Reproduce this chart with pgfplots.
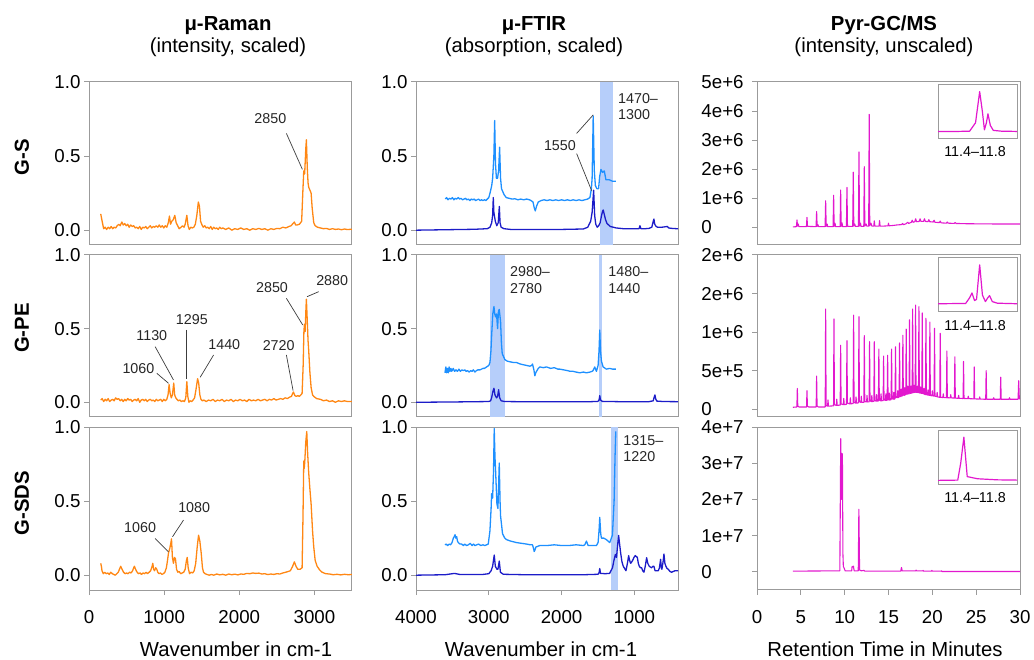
\documentclass[border=0pt]{standalone}
\usepackage{fontspec}
\setmainfont{Liberation Sans}
\usepackage{pgfplots}
\pgfplotsset{compat=1.18}
\definecolor{ramanorange}{RGB}{255,135,20}
\definecolor{ftirlight}{RGB}{30,144,255}
\definecolor{ftirdark}{RGB}{28,28,200}
\definecolor{gcmag}{RGB}{226,24,206}
\definecolor{bandblue}{RGB}{182,206,250}
\definecolor{framegray}{RGB}{155,155,155}
\definecolor{annline}{RGB}{60,60,60}
\newcommand\ticksize{\fontsize{18.7}{22}\selectfont}
\newcommand\titlesize{\fontsize{20.3}{24}\selectfont}
\newcommand\annsize{\fontsize{14.3}{16.7}\selectfont}
\pgfplotsset{
  panel/.style={scale only axis,anchor=north west,
    axis line style={draw=framegray,line width=1pt},
    tick style={draw=framegray,line width=1pt},
    tick align=outside,major tick length=5pt,
    xtick pos=left,ytick pos=left,
    tick label style={font=\ticksize},
    xticklabel style={yshift=-12pt},
    every axis plot/.append style={line width=1.3pt,line join=round}},
  raman/.style={panel,width=263pt,xmin=0,xmax=3500,ymin=-0.1,ymax=1.0,
    ytick={0,0.5,1},yticklabels={0.0,0.5,1.0}},
  ftir/.style={panel,width=262pt,x dir=reverse,xmin=400,xmax=4000,ymin=-0.1,ymax=1.0,
    ytick={0,0.5,1},yticklabels={0.0,0.5,1.0}},
  gc/.style={panel,width=263pt,xmin=0,xmax=30,scaled y ticks=false,
    yticklabel style={text width=47pt,align=left},
    every axis plot/.append style={line width=1.1pt}},
  inset/.style={scale only axis,anchor=north west,width=79pt,height=54pt,
    xmin=11.4,xmax=11.8,ymin=0,ymax=1,xtick=\empty,ytick=\empty,
    axis line style={draw=framegray,line width=1pt},
    axis background/.style={fill=white},
    every axis plot/.append style={line width=1.2pt,line join=round}},
}
\tikzset{
  ann/.style={font=\annsize,inner sep=0pt,text=black!85},
  ann2/.style={font=\annsize,inner sep=0pt,text=black!85,align=left,anchor=north west},
  pointer/.style={draw=annline,line width=0.7pt},
}
\begin{document}
\begin{tikzpicture}
\useasboundingbox (0pt,0pt) rectangle (1034pt,-660pt);

% column titles
\node[anchor=base,font=\titlesize\bfseries] at (228pt,-30.7pt) {μ-Raman};
\node[anchor=base,font=\titlesize] at (228pt,-52.7pt) {(intensity, scaled)};
\node[anchor=base,font=\titlesize\bfseries] at (534pt,-30.7pt) {μ-FTIR};
\node[anchor=base,font=\titlesize] at (534pt,-52.7pt) {(absorption, scaled)};
\node[anchor=base,font=\titlesize\bfseries] at (884pt,-30.7pt) {Pyr-GC/MS};
\node[anchor=base,font=\titlesize] at (884pt,-52.7pt) {(intensity, unscaled)};

% row labels
\node[rotate=90,font=\titlesize\bfseries] at (22pt,-157pt) {G-S};
\node[rotate=90,font=\titlesize\bfseries] at (22pt,-328pt) {G-PE};
\node[rotate=90,font=\titlesize\bfseries] at (22pt,-503pt) {G-SDS};

% x axis titles
\node[anchor=base,inner sep=0pt,font=\titlesize] at (236pt,-656pt) {Wavenumber in cm-1};
\node[anchor=base,inner sep=0pt,font=\titlesize] at (541pt,-656pt) {Wavenumber in cm-1};
\node[anchor=base,inner sep=0pt,font=\titlesize] at (885pt,-656pt) {Retention Time in Minutes};

%% ---------------- Raman ----------------
\begin{axis}[raman,at={(89pt,-82pt)},height=163pt,xtick=\empty]
\addplot[ramanorange] coordinates {(156,0.11)(175,0.06)(195,0.01)(215,0.02)(235,0.005)(255,0.02)(275,0.01)(295,0.025)(315,0.01)(335,0.02)(355,0.015)(375,0.03)(395,0.04)(415,0.03)(437,0.055)(455,0.035)(475,0.045)(495,0.03)(515,0.04)(535,0.02)(555,0.035)(575,0.025)(595,0.03)(615,0.015)(635,0.02)(655,0.01)(675,0.025)(695,0.005)(715,0.02)(735,0.015)(755,0.025)(775,0.01)(795,0.02)(815,0.03)(835,0.015)(855,0.025)(875,0.02)(895,0.03)(915,0.02)(935,0.035)(955,0.02)(975,0.03)(995,0.015)(1015,0.03)(1035,0.02)(1055,0.05)(1071,0.095)(1085,0.04)(1102,0.06)(1120,0.07)(1142,0.10)(1160,0.05)(1180,0.03)(1200,0.01)(1225,0.02)(1245,0.03)(1265,0.02)(1280,0.04)(1302,0.10)(1318,0.03)(1335,0.005)(1355,0.02)(1375,0.015)(1395,0.02)(1415,0.04)(1435,0.10)(1455,0.19)(1470,0.16)(1485,0.06)(1500,0.04)(1520,0.02)(1540,0.03)(1560,0.015)(1580,0.02)(1600,0.01)(1620,0.025)(1640,0.005)(1660,0.02)(1680,0.01)(1700,0.015)(1720,0.005)(1740,0.02)(1760,0.01)(1780,0.015)(1820,0.005)(1860,0.015)(1900,0.0)(1940,0.01)(1980,0.005)(2020,0.015)(2060,0.005)(2100,0.01)(2140,0.0)(2180,0.01)(2220,0.005)(2260,0.012)(2300,0.005)(2340,0.01)(2380,0.0)(2420,0.01)(2460,0.005)(2500,0.012)(2540,0.01)(2580,0.02)(2620,0.015)(2660,0.025)(2690,0.03)(2715,0.045)(2733,0.055)(2750,0.035)(2770,0.035)(2800,0.04)(2830,0.06)(2845,0.25)(2858,0.40)(2870,0.38)(2885,0.55)(2893,0.61)(2905,0.42)(2915,0.32)(2924,0.29)(2940,0.27)(2956,0.25)(2970,0.15)(2991,0.05)(3010,0.03)(3040,0.02)(3080,0.015)(3120,0.01)(3160,0.012)(3200,0.005)(3240,0.01)(3280,0.005)(3320,0.008)(3360,0.003)(3400,0.008)(3440,0.004)(3480,0.006)(3500,0.005)};
\draw[pointer] (2627,0.653) -- (2840,0.41);
\node[ann] at (2413,0.755) {2850};
\end{axis}

\begin{axis}[raman,at={(89pt,-255pt)},height=162pt,xtick=\empty]
\addplot[ramanorange] coordinates {(156,0.015)(175,0.025)(195,0.005)(215,0.02)(235,0.01)(255,0.025)(275,0.005)(295,0.015)(315,0.02)(335,0.01)(355,0.03)(375,0.02)(395,0.025)(415,0.01)(435,0.02)(455,0.005)(475,0.02)(495,0.01)(515,0.025)(535,0.015)(555,0.02)(575,0.005)(595,0.015)(615,0.02)(635,0.01)(655,0.025)(675,0.0)(695,0.015)(715,0.02)(735,0.01)(755,0.02)(775,0.005)(795,0.015)(815,0.02)(835,0.01)(855,0.015)(875,0.005)(895,0.02)(915,0.01)(935,0.015)(955,0.02)(975,0.005)(995,0.02)(1015,0.01)(1035,0.02)(1052,0.05)(1066,0.12)(1080,0.06)(1095,0.03)(1110,0.05)(1128,0.13)(1140,0.05)(1155,0.03)(1170,0.02)(1190,0.01)(1210,0.015)(1230,0.005)(1250,0.01)(1270,0.005)(1288,0.03)(1302,0.14)(1315,0.04)(1330,0.0)(1345,0.01)(1365,0.005)(1385,0.015)(1405,0.03)(1425,0.09)(1445,0.16)(1460,0.13)(1475,0.05)(1490,0.02)(1510,0.01)(1530,0.015)(1560,0.005)(1590,0.015)(1620,0.01)(1650,0.02)(1680,0.005)(1710,0.015)(1740,0.01)(1770,0.02)(1800,0.005)(1830,0.015)(1860,0.01)(1890,0.02)(1920,0.005)(1950,0.015)(1980,0.01)(2010,0.02)(2040,0.01)(2070,0.015)(2100,0.005)(2130,0.02)(2160,0.01)(2190,0.015)(2220,0.01)(2250,0.02)(2280,0.01)(2310,0.015)(2340,0.02)(2370,0.01)(2400,0.02)(2430,0.015)(2460,0.025)(2490,0.015)(2520,0.02)(2550,0.025)(2580,0.02)(2610,0.03)(2640,0.025)(2670,0.035)(2695,0.04)(2710,0.06)(2720,0.07)(2740,0.045)(2760,0.04)(2780,0.045)(2800,0.04)(2820,0.05)(2836,0.06)(2850,0.25)(2860,0.48)(2867,0.53)(2876,0.48)(2886,0.62)(2893,0.70)(2905,0.55)(2915,0.42)(2924,0.35)(2940,0.2)(2956,0.1)(2975,0.05)(2991,0.04)(3030,0.025)(3080,0.02)(3120,0.01)(3160,0.015)(3200,0.005)(3240,0.01)(3280,0.0)(3320,0.01)(3360,0.005)(3400,0.01)(3440,0.005)(3500,0.005)};
\draw[pointer] (3057,0.751) -- (2902,0.717);
\node[ann] at (3236,0.826) {2880};
\draw[pointer] (2627,0.706) -- (2844,0.525);
\node[ann] at (2436,0.78) {2850};
\draw[pointer] (1302,0.491) -- (1302,0.156);
\node[ann] at (1369,0.563) {1295};
\draw[pointer] (880,0.378) -- (1124,0.152);
\node[ann] at (836,0.45) {1130};
\draw[pointer] (1658,0.321) -- (1480,0.17);
\node[ann] at (1800,0.389) {1440};
\draw[pointer] (902,0.197) -- (1058,0.129);
\node[ann] at (658,0.231) {1060};
\draw[pointer] (2627,0.321) -- (2716,0.079);
\node[ann] at (2524,0.382) {2720};
\end{axis}

\begin{axis}[raman,at={(89pt,-427pt)},height=163pt,
  xtick={0,1000,2000,3000},xticklabels={0,1000,2000,3000}]
\addplot[ramanorange] coordinates {(156,0.08)(165,0.06)(173,0.03)(190,0.01)(210,0.02)(230,0.01)(250,0.015)(270,0.005)(290,0.02)(310,0.01)(330,0.005)(350,0.0)(370,0.01)(390,0.02)(405,0.04)(422,0.06)(440,0.04)(460,0.02)(480,0.01)(500,0.015)(520,0.01)(540,0.02)(560,0.015)(580,0.03)(595,0.05)(604,0.06)(620,0.04)(640,0.02)(660,0.01)(680,0.015)(700,0.005)(720,0.015)(740,0.01)(760,0.02)(780,0.01)(800,0.02)(820,0.03)(840,0.06)(849,0.08)(860,0.04)(872,0.03)(888,0.05)(902,0.04)(915,0.02)(930,0.01)(950,0.015)(970,0.005)(990,0.01)(1010,0.02)(1030,0.05)(1045,0.10)(1058,0.15)(1075,0.18)(1090,0.22)(1098,0.245)(1110,0.12)(1124,0.08)(1138,0.12)(1151,0.11)(1165,0.04)(1182,0.02)(1200,0.025)(1220,0.01)(1240,0.015)(1260,0.02)(1280,0.04)(1297,0.10)(1307,0.12)(1320,0.05)(1338,0.01)(1360,0.02)(1380,0.015)(1400,0.03)(1420,0.08)(1440,0.19)(1458,0.27)(1475,0.23)(1493,0.15)(1510,0.05)(1524,0.02)(1545,0.01)(1570,0.005)(1600,0.0)(1630,0.005)(1660,0.0)(1700,0.008)(1740,0.002)(1780,0.006)(1820,0.0)(1860,0.008)(1900,0.003)(1940,0.007)(1980,0.002)(2020,0.008)(2060,0.006)(2100,0.012)(2140,0.01)(2180,0.015)(2220,0.012)(2260,0.014)(2300,0.008)(2340,0.01)(2380,0.004)(2420,0.008)(2460,0.005)(2500,0.01)(2540,0.008)(2580,0.015)(2620,0.02)(2650,0.025)(2680,0.03)(2710,0.06)(2733,0.09)(2755,0.06)(2778,0.04)(2810,0.04)(2836,0.05)(2848,0.4)(2858,0.77)(2864,0.72)(2871,0.76)(2885,0.9)(2898,0.97)(2910,0.82)(2924,0.69)(2940,0.58)(2956,0.48)(2975,0.3)(2991,0.19)(3010,0.1)(3036,0.06)(3070,0.035)(3102,0.02)(3150,0.01)(3200,0.008)(3250,0.003)(3300,0.006)(3350,0.002)(3400,0.006)(3450,0.003)(3500,0.005)};
\draw[pointer] (1258,0.372) -- (1111,0.259);
\node[ann] at (1400,0.457) {1080};
\draw[pointer] (880,0.248) -- (1058,0.158);
\node[ann] at (680,0.322) {1060};
\end{axis}

%% ---------------- FTIR ----------------
\begin{axis}[ftir,at={(416pt,-82pt)},height=163pt,xtick=\empty]
\fill[bandblue] (1470,-0.1) rectangle (1300,1.0);
\addplot[ftirlight] coordinates {(3597,0.21)(3580,0.22)(3560,0.205)(3540,0.215)(3520,0.21)(3500,0.22)(3480,0.205)(3460,0.215)(3440,0.21)(3420,0.22)(3400,0.21)(3380,0.215)(3360,0.205)(3340,0.21)(3320,0.215)(3300,0.205)(3280,0.21)(3260,0.2)(3240,0.21)(3220,0.205)(3200,0.21)(3180,0.2)(3160,0.205)(3140,0.21)(3120,0.2)(3100,0.205)(3080,0.2)(3060,0.205)(3040,0.2)(3020,0.21)(3000,0.22)(2983,0.25)(2960,0.3)(2947,0.35)(2930,0.5)(2919,0.74)(2908,0.45)(2895,0.35)(2880,0.35)(2865,0.4)(2851,0.56)(2838,0.35)(2825,0.28)(2790,0.24)(2760,0.22)(2720,0.215)(2680,0.21)(2640,0.212)(2600,0.205)(2560,0.21)(2520,0.205)(2480,0.21)(2440,0.205)(2420,0.2)(2392,0.19)(2375,0.15)(2361,0.13)(2345,0.16)(2320,0.19)(2280,0.2)(2240,0.205)(2200,0.2)(2160,0.205)(2120,0.2)(2080,0.205)(2040,0.2)(2000,0.205)(1960,0.2)(1920,0.205)(1880,0.2)(1840,0.205)(1800,0.2)(1760,0.205)(1720,0.2)(1680,0.205)(1642,0.21)(1610,0.22)(1590,0.28)(1580,0.35)(1565,0.77)(1550,0.4)(1535,0.3)(1514,0.28)(1491,0.28)(1477,0.36)(1459,0.41)(1436,0.39)(1413,0.40)(1390,0.34)(1344,0.34)(1298,0.33)(1253,0.33)};
\addplot[ftirdark] coordinates {(4000,0.0)(3600,0.003)(3200,0.006)(3020,0.01)(2983,0.02)(2960,0.05)(2947,0.1)(2938,0.22)(2930,0.12)(2910,0.06)(2890,0.03)(2870,0.05)(2855,0.16)(2845,0.05)(2830,0.02)(2790,0.01)(2700,0.005)(2400,0.004)(2000,0.005)(1700,0.008)(1640,0.02)(1600,0.06)(1580,0.12)(1559,0.27)(1545,0.1)(1530,0.04)(1510,0.02)(1490,0.03)(1470,0.05)(1450,0.1)(1435,0.13)(1427,0.136)(1410,0.1)(1395,0.07)(1375,0.045)(1330,0.025)(1250,0.015)(1150,0.01)(1000,0.01)(935,0.01)(923,0.03)(910,0.01)(850,0.01)(800,0.012)(760,0.02)(740,0.06)(731,0.075)(720,0.04)(700,0.025)(680,0.02)(650,0.02)(620,0.02)(545,0.025)(530,0.015)(480,0.012)(420,0.01)(400,0.01)};
\draw[pointer] (1793,0.517) -- (1587,0.267);
\draw[pointer] (1793,0.653) -- (1565,0.778);
\node[ann] at (2022,0.569) {1550};
\node[ann2] at (1225,0.925) {1470–\\1300};
\end{axis}

\begin{axis}[ftir,at={(416pt,-255pt)},height=162pt,xtick=\empty]
\fill[bandblue] (2980,-0.1) rectangle (2780,1.0);
\fill[bandblue] (1480,-0.1) rectangle (1440,1.0);
\addplot[ftirlight] coordinates {(3602,0.20)(3590,0.24)(3579,0.20)(3567,0.23)(3556,0.20)(3545,0.24)(3533,0.21)(3520,0.23)(3510,0.21)(3498,0.22)(3488,0.23)(3470,0.21)(3450,0.22)(3430,0.21)(3410,0.225)(3390,0.21)(3370,0.22)(3350,0.215)(3330,0.22)(3310,0.21)(3290,0.215)(3270,0.205)(3250,0.215)(3230,0.21)(3213,0.22)(3190,0.205)(3170,0.215)(3150,0.22)(3121,0.22)(3100,0.225)(3080,0.23)(3060,0.23)(3030,0.24)(3000,0.25)(2984,0.27)(2970,0.35)(2961,0.45)(2945,0.60)(2929,0.65)(2918,0.60)(2907,0.58)(2893,0.60)(2879,0.50)(2867,0.62)(2856,0.63)(2838,0.55)(2826,0.40)(2815,0.33)(2779,0.29)(2750,0.28)(2710,0.275)(2660,0.27)(2619,0.27)(2570,0.26)(2527,0.255)(2480,0.25)(2436,0.245)(2410,0.25)(2399,0.26)(2380,0.22)(2367,0.18)(2355,0.2)(2344,0.21)(2320,0.23)(2299,0.24)(2250,0.235)(2207,0.24)(2150,0.23)(2100,0.235)(2050,0.225)(2024,0.225)(1970,0.22)(1920,0.215)(1880,0.21)(1841,0.21)(1800,0.205)(1750,0.2)(1700,0.205)(1658,0.2)(1610,0.205)(1580,0.21)(1567,0.215)(1544,0.24)(1521,0.21)(1498,0.25)(1485,0.35)(1475,0.49)(1465,0.35)(1452,0.28)(1429,0.24)(1384,0.225)(1340,0.23)(1300,0.225)(1255,0.225)};
\addplot[ftirdark] coordinates {(4000,0.0)(3500,0.002)(3000,0.005)(2975,0.01)(2961,0.03)(2945,0.07)(2929,0.095)(2915,0.05)(2893,0.03)(2879,0.04)(2865,0.085)(2850,0.03)(2830,0.01)(2780,0.005)(2400,0.003)(2000,0.003)(1600,0.004)(1500,0.006)(1485,0.015)(1475,0.045)(1465,0.015)(1440,0.006)(1200,0.004)(800,0.004)(740,0.01)(730,0.03)(717,0.05)(705,0.02)(690,0.008)(600,0.005)(400,0.004)};
\node[ann2] at (2709,0.92) {2980–\\2780};
\node[ann2] at (1358,0.92) {1480–\\1440};
\end{axis}

\begin{axis}[ftir,at={(416pt,-427pt)},height=163pt,
  xtick={1000,2000,3000,4000},xticklabels={1000,2000,3000,4000}]
\fill[bandblue] (1315,-0.1) rectangle (1220,1.0);
\addplot[ftirlight] coordinates {(3602,0.205)(3585,0.21)(3565,0.2)(3545,0.21)(3525,0.205)(3505,0.22)(3487,0.25)(3475,0.26)(3464,0.273)(3452,0.25)(3441,0.26)(3430,0.23)(3419,0.22)(3395,0.21)(3373,0.21)(3350,0.2)(3330,0.21)(3305,0.2)(3280,0.205)(3255,0.215)(3230,0.2)(3210,0.21)(3190,0.2)(3165,0.205)(3140,0.21)(3110,0.2)(3080,0.205)(3055,0.2)(3030,0.205)(3007,0.21)(2984,0.3)(2968,0.45)(2961,0.55)(2947,0.52)(2935,0.7)(2925,0.99)(2915,0.8)(2906,0.7)(2888,0.48)(2874,0.45)(2865,0.6)(2856,0.757)(2845,0.5)(2838,0.4)(2811,0.28)(2780,0.25)(2756,0.24)(2700,0.23)(2619,0.22)(2550,0.215)(2481,0.21)(2430,0.205)(2399,0.205)(2385,0.18)(2376,0.16)(2365,0.17)(2353,0.19)(2299,0.2)(2200,0.2)(2100,0.205)(2000,0.2)(1900,0.2)(1800,0.205)(1700,0.2)(1681,0.205)(1658,0.23)(1635,0.2)(1600,0.2)(1550,0.2)(1521,0.2)(1498,0.22)(1485,0.3)(1475,0.39)(1462,0.28)(1452,0.25)(1420,0.25)(1384,0.24)(1338,0.22)(1301,0.27)(1278,0.5)(1265,0.8)(1255,0.97)};
\addplot[ftirdark] coordinates {(4000,0.0)(3600,0.003)(3500,0.01)(3470,0.012)(3400,0.005)(3100,0.004)(3000,0.01)(2968,0.03)(2947,0.06)(2925,0.136)(2910,0.06)(2888,0.04)(2874,0.04)(2856,0.095)(2840,0.02)(2800,0.006)(2500,0.003)(2000,0.003)(1700,0.003)(1500,0.006)(1485,0.015)(1475,0.045)(1465,0.012)(1400,0.01)(1340,0.012)(1300,0.05)(1280,0.1)(1260,0.14)(1245,0.12)(1230,0.2)(1216,0.268)(1200,0.2)(1188,0.15)(1170,0.09)(1152,0.06)(1115,0.03)(1095,0.08)(1078,0.132)(1065,0.1)(1051,0.08)(1035,0.09)(1023,0.1)(1005,0.12)(987,0.132)(970,0.125)(959,0.12)(945,0.08)(932,0.06)(915,0.05)(900,0.05)(885,0.03)(868,0.02)(850,0.06)(831,0.118)(815,0.08)(795,0.06)(780,0.055)(763,0.05)(745,0.06)(731,0.06)(715,0.03)(703,0.03)(685,0.03)(671,0.03)(655,0.05)(639,0.107)(630,0.05)(621,0.04)(605,0.09)(593,0.143)(580,0.08)(566,0.06)(550,0.045)(534,0.04)(510,0.025)(488,0.02)(465,0.025)(442,0.03)(420,0.03)(400,0.03)};
\node[ann2] at (1152,0.947) {1315–\\1220};
\end{axis}

%% ---------------- Pyr-GC/MS ----------------
\begin{axis}[gc,at={(757pt,-82pt)},height=163pt,xtick=\empty,
  ymin=-0.6e6,ymax=5e6,ytick={0,1e6,2e6,3e6,4e6,5e6},
  yticklabels={0,1e+6,2e+6,3e+6,4e+6,5e+6}]
\addplot[gcmag] coordinates {(4.1,0.02e6)(4.5,0.03e6)(4.56,0.26e6)(4.62,0.05e6)(4.7,0.12e6)(4.78,0.03e6)(5.64,0.03e6)(5.7,0.35e6)(5.76,0.04e6)(6.74,0.03e6)(6.8,0.55e6)(6.86,0.04e6)(6.95,0.1e6)(7.02,0.03e6)(7.77,0.03e6)(7.83,0.92e6)(7.89,0.04e6)(8.0,0.12e6)(8.07,0.03e6)(8.68,0.03e6)(8.74,1.11e6)(8.8,0.04e6)(8.9,0.15e6)(8.97,0.03e6)(9.48,0.03e6)(9.54,1.29e6)(9.6,0.04e6)(9.7,0.16e6)(9.77,0.03e6)(10.2,0.03e6)(10.26,1.38e6)(10.32,0.04e6)(10.92,0.04e6)(10.98,1.90e6)(11.04,0.05e6)(11.15,0.12e6)(11.22,0.04e6)(11.57,0.04e6)(11.63,2.60e6)(11.69,0.05e6)(11.8,0.15e6)(11.87,0.04e6)(12.18,0.04e6)(12.24,2.09e6)(12.30,0.05e6)(12.45,0.12e6)(12.52,0.05e6)(12.74,0.05e6)(12.8,3.89e6)(12.86,0.06e6)(13.0,0.15e6)(13.1,0.05e6)(13.32,0.05e6)(13.38,0.23e6)(13.44,0.05e6)(13.92,0.05e6)(13.98,0.24e6)(14.04,0.05e6)(14.5,0.05e6)(14.95,0.06e6)(15.0,0.15e6)(15.05,0.06e6)(15.5,0.07e6)(16.0,0.09e6)(16.5,0.1e6)(16.6,0.14e6)(16.7,0.1e6)(17.0,0.13e6)(17.2,0.18e6)(17.3,0.14e6)(17.6,0.18e6)(17.7,0.25e6)(17.8,0.18e6)(18.0,0.2e6)(18.1,0.3e6)(18.2,0.2e6)(18.5,0.21e6)(18.6,0.3e6)(18.7,0.21e6)(19.0,0.21e6)(19.1,0.3e6)(19.2,0.21e6)(19.5,0.2e6)(19.6,0.27e6)(19.7,0.2e6)(20.1,0.19e6)(20.2,0.25e6)(20.3,0.18e6)(20.8,0.17e6)(20.9,0.22e6)(21.0,0.16e6)(21.6,0.15e6)(21.7,0.19e6)(21.8,0.15e6)(22.5,0.14e6)(22.6,0.17e6)(22.7,0.14e6)(24.0,0.13e6)(26.0,0.125e6)(28.0,0.12e6)(30.0,0.12e6)};
\end{axis}
\begin{axis}[inset,at={(938pt,-85pt)}]
\addplot[gcmag] coordinates {(11.4,0.14)(11.5,0.14)(11.56,0.145)(11.59,0.3)(11.611,0.877)(11.625,0.5)(11.635,0.17)(11.645,0.3)(11.653,0.466)(11.665,0.25)(11.68,0.16)(11.72,0.145)(11.8,0.14)};
\end{axis}
\node[font=\annsize] at (975pt,-151.7pt) {11.4–11.8};

\begin{axis}[gc,at={(757pt,-255pt)},height=162pt,xtick=\empty,
  ymin=-1e5,ymax=2e6,ytick={0,5e5,1e6,1.5e6,2e6},
  yticklabels={0,5e+5,1e+6,2e+6,2e+6}]
\addplot[gcmag] coordinates {(4.1,0.026e6)(4.55,0.03e6)(4.6,0.27e6)(4.65,0.04e6)(4.8,0.03e6)(5.65,0.03e6)(5.7,0.24e6)(5.75,0.04e6)(5.9,0.03e6)(6.75,0.03e6)(6.8,0.43e6)(6.85,0.04e6)(7.0,0.03e6)(7.78,0.03e6)(7.83,1.30e6)(7.88,0.05e6)(8.05,0.04e6)(8.1,0.12e6)(8.15,0.04e6)(8.73,0.045e6)(8.78,1.17e6)(8.83,0.06e6)(9.05,0.05e6)(9.1,0.13e6)(9.15,0.05e6)(9.49,0.055e6)(9.54,0.83e6)(9.59,0.07e6)(9.85,0.06e6)(9.9,0.14e6)(9.95,0.06e6)(10.21,0.065e6)(10.26,0.89e6)(10.31,0.08e6)(10.6,0.07e6)(10.65,0.15e6)(10.7,0.07e6)(10.97,0.075e6)(11.02,1.22e6)(11.07,0.09e6)(11.25,0.08e6)(11.3,0.16e6)(11.35,0.08e6)(11.58,0.083e6)(11.63,1.20e6)(11.68,0.1e6)(11.85,0.09e6)(11.9,0.17e6)(11.95,0.09e6)(12.19,0.09e6)(12.24,0.955e6)(12.29,0.1e6)(12.5,0.095e6)(12.55,0.18e6)(12.6,0.095e6)(12.79,0.097e6)(12.84,0.877e6)(12.89,0.11e6)(13.05,0.1e6)(13.1,0.18e6)(13.15,0.1e6)(13.33,0.103e6)(13.38,0.877e6)(13.43,0.115e6)(13.6,0.105e6)(13.65,0.19e6)(13.7,0.105e6)(13.85,0.108e6)(13.9,0.78e6)(13.95,0.12e6)(14.1,0.11e6)(14.15,0.2e6)(14.2,0.11e6)(14.39,0.113e6)(14.44,0.69e6)(14.49,0.125e6)(14.65,0.115e6)(14.7,0.2e6)(14.75,0.115e6)(14.85,0.117e6)(14.9,0.70e6)(14.95,0.13e6)(15.05,0.12e6)(15.1,0.21e6)(15.15,0.12e6)(15.3,0.125e6)(15.35,0.78e6)(15.4,0.14e6)(15.55,0.13e6)(15.6,0.22e6)(15.65,0.13e6)(15.75,0.14e6)(15.8,0.81e6)(15.85,0.155e6)(16.0,0.15e6)(16.05,0.24e6)(16.1,0.15e6)(16.21,0.16e6)(16.26,0.86e6)(16.31,0.17e6)(16.4,0.165e6)(16.45,0.26e6)(16.5,0.17e6)(16.59,0.175e6)(16.64,0.96e6)(16.69,0.185e6)(16.8,0.18e6)(16.85,0.28e6)(16.9,0.185e6)(16.97,0.19e6)(17.02,1.04e6)(17.07,0.2e6)(17.15,0.195e6)(17.2,0.3e6)(17.25,0.2e6)(17.35,0.2e6)(17.4,1.16e6)(17.45,0.21e6)(17.53,0.205e6)(17.58,0.3e6)(17.63,0.21e6)(17.7,0.21e6)(17.75,1.30e6)(17.8,0.22e6)(17.87,0.215e6)(17.92,0.31e6)(17.97,0.22e6)(18.04,0.22e6)(18.09,1.35e6)(18.14,0.22e6)(18.25,0.22e6)(18.3,0.3e6)(18.35,0.215e6)(18.42,0.215e6)(18.47,1.33e6)(18.52,0.215e6)(18.6,0.21e6)(18.65,0.29e6)(18.7,0.21e6)(18.8,0.205e6)(18.85,1.25e6)(18.9,0.205e6)(19.0,0.2e6)(19.05,0.27e6)(19.1,0.195e6)(19.22,0.19e6)(19.27,1.18e6)(19.32,0.19e6)(19.45,0.185e6)(19.5,0.25e6)(19.55,0.185e6)(19.67,0.18e6)(19.72,1.13e6)(19.77,0.18e6)(19.95,0.175e6)(20.0,0.24e6)(20.05,0.175e6)(20.2,0.17e6)(20.25,1.05e6)(20.3,0.17e6)(20.5,0.165e6)(20.55,0.22e6)(20.6,0.16e6)(20.85,0.155e6)(20.9,0.985e6)(20.95,0.155e6)(21.2,0.152e6)(21.25,0.2e6)(21.3,0.152e6)(21.61,0.15e6)(21.66,0.756e6)(21.71,0.15e6)(22.05,0.148e6)(22.1,0.19e6)(22.15,0.148e6)(22.52,0.145e6)(22.57,0.68e6)(22.62,0.145e6)(22.95,0.142e6)(23.0,0.18e6)(23.05,0.142e6)(23.51,0.14e6)(23.56,0.62e6)(23.61,0.14e6)(24.05,0.138e6)(24.1,0.17e6)(24.15,0.138e6)(24.73,0.135e6)(24.78,0.55e6)(24.83,0.135e6)(25.35,0.132e6)(25.4,0.16e6)(25.45,0.132e6)(26.09,0.13e6)(26.14,0.50e6)(26.19,0.13e6)(26.95,0.13e6)(27.0,0.15e6)(27.05,0.13e6)(27.75,0.13e6)(27.8,0.415e6)(27.85,0.13e6)(28.75,0.13e6)(28.8,0.15e6)(28.85,0.13e6)(29.78,0.13e6)(29.85,0.37e6)(29.92,0.14e6)(30.0,0.13e6)};
\end{axis}
\begin{axis}[inset,at={(938pt,-257.3pt)}]
\addplot[gcmag] coordinates {(11.4,0.14)(11.54,0.145)(11.56,0.25)(11.572,0.34)(11.585,0.2)(11.595,0.22)(11.611,0.86)(11.625,0.3)(11.64,0.18)(11.652,0.25)(11.661,0.29)(11.675,0.18)(11.7,0.15)(11.8,0.14)};
\end{axis}
\node[font=\annsize] at (975pt,-326pt) {11.4–11.8};

\begin{axis}[gc,at={(757pt,-427pt)},height=163pt,
  xtick={0,5,10,15,20,25,30},xticklabels={0,5,10,15,20,25,30},
  ymin=-5e6,ymax=4e7,ytick={0,1e7,2e7,3e7,4e7},
  yticklabels={0,1e+7,2e+7,3e+7,4e+7}]
\addplot[gcmag] coordinates {(4.1,2e5)(9.45,3e5)(9.55,3.68e7)(9.62,2.0e7)(9.68,3.27e7)(9.74,3.25e7)(9.8,5e6)(9.85,1.5e6)(9.95,1.0e6)(10.05,3e5)(10.8,3e5)(10.85,1.5e6)(10.95,1.4e6)(11.0,1.6e6)(11.08,3e5)(11.55,3e5)(11.62,1.73e7)(11.7,5e5)(11.9,3e5)(12.2,4e5)(12.3,2e5)(16.4,2e5)(16.48,1.2e6)(16.56,3e5)(18.1,3e5)(18.15,5e5)(18.2,3e5)(18.9,3e5)(18.95,4e5)(19.0,2e5)(19.9,2e5)(19.95,4e5)(20.0,2e5)(21.0,2e5)(21.05,3e5)(21.1,1e5)(30,1e5)};
\end{axis}
\begin{axis}[inset,at={(938pt,-430.7pt)}]
\addplot[gcmag] coordinates {(11.4,0.08)(11.5,0.085)(11.515,0.4)(11.531,0.88)(11.548,0.15)(11.6,0.11)(11.7,0.09)(11.8,0.085)};
\end{axis}
\node[font=\annsize] at (975pt,-497.3pt) {11.4–11.8};
\end{tikzpicture}
\end{document}
